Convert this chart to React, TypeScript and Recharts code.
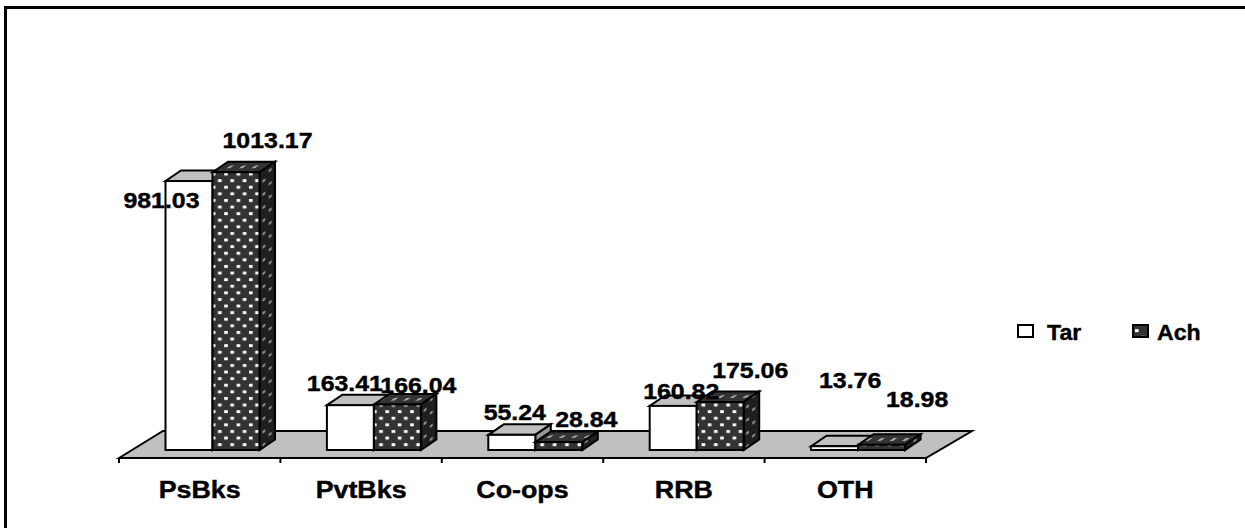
import { BarChart, Bar, XAxis, YAxis, Legend, LabelList } from "recharts";

const categories = ["PsBks", "PvtBks", "Co-ops", "RRB", "OTH"];
const tar = [981.03, 163.41, 55.24, 160.82, 13.76];
const ach = [1013.17, 166.04, 28.84, 175.06, 18.98];

// hand placed data labels, offset from the top centre of each bar
const tarNudge = [[-15, 19], [7, -22], [15.5, -22], [20.5, -14], [28, -65.5]];
const achNudge = [[44, -32], [33.5, -18.5], [40, -23], [42.5, -31], [48, -45]];

const data = categories.map((name, i) => ({ name, tar: tar[i], ach: ach[i] }));

const W = 1245;
const H = 528;
const left = 119;
const right = 926;
const top = 121;
const axisY = 458;
const axisH = 30;
const band = (right - left) / categories.length;
const shiftX = 12.5; // bars stand back from the axis on the floor
const depthX = 15.5;
const depthY = 10.5;
const font = "'Liberation Sans', Arial, sans-serif";

function Box(props: any) {
  const { x, y, width, height, dark, index } = props;
  const fx = x + shiftX;
  const r = fx + width;
  const b = y + height;
  const topId = `achTop${index}`;
  return (
    <g stroke="#000" strokeWidth={2} strokeLinejoin="miter">
      {dark && (
        <pattern
          id={topId}
          patternUnits="userSpaceOnUse"
          x={fx}
          y={y - depthY}
          width={12.4}
          height={depthY}
          patternTransform="skewX(-56)"
        >
          <rect width={12.4} height={depthY} fill="#333" stroke="none" />
          <rect x={3} y={3.8} width={3.6} height={2.8} fill="#a6a6a6" stroke="none" />
        </pattern>
      )}
      <polygon
        points={`${fx},${y} ${fx + depthX},${y - depthY} ${r + depthX},${y - depthY} ${r},${y}`}
        fill={dark ? `url(#${topId})` : "#c0c0c0"}
      />
      <polygon
        points={`${r},${y} ${r + depthX},${y - depthY} ${r + depthX},${b - depthY} ${r},${b}`}
        fill={dark ? "url(#achSide)" : "#969696"}
      />
      <rect x={fx} y={y} width={width} height={height} fill={dark ? "url(#achFront)" : "#fff"} />
    </g>
  );
}

function ValueLabel(props: any, nudge: number[][]) {
  const { x, y, width, value, index } = props;
  const [dx, dy] = nudge[index];
  return (
    <text
      transform={`translate(${x + width / 2 + dx},${y + dy + 7.5}) scale(1.158,1)`}
      textAnchor="middle"
      fontFamily={font}
      fontWeight="bold"
      fontSize={21.5}
      fill="#000"
      stroke="#000"
      strokeWidth={0.4}
    >
      {value}
    </text>
  );
}

function CategoryTick(props: any) {
  const { x, payload, index } = props;
  const edge = x - band / 2;
  return (
    <g>
      <line x1={edge} x2={edge} y1={axisY} y2={axisY + 5} stroke="#000" strokeWidth={2} />
      {index === categories.length - 1 && (
        <line x1={edge + band} x2={edge + band} y1={axisY} y2={axisY + 5} stroke="#000" strokeWidth={2} />
      )}
      <text
        transform={`translate(${x},${axisY + 40}) scale(1.166,1)`}
        textAnchor="middle"
        fontFamily={font}
        fontWeight="bold"
        fontSize={23}
        fill="#000"
        stroke="#000"
        strokeWidth={0.4}
      >
        {payload.value}
      </text>
    </g>
  );
}

function LegendBox(props: any) {
  const items = props.payload || [];
  const spots = [8, 123];
  return (
    <svg width={210} height={30} style={{ display: "block" }}>
      {items.map((item: any, i: number) => (
        <g key={item.value}>
          <rect
            x={spots[i]}
            y={10}
            width={15}
            height={12}
            fill={item.color}
            stroke="#000"
            strokeWidth={2}
          />
          <text
            transform={`translate(${spots[i] + 29 - (i ? 5 : 0)},25) scale(1.05,1)`}
            fontFamily={font}
            fontWeight="bold"
            fontSize={22}
            fill="#000"
            stroke="#000"
            strokeWidth={0.4}
          >
            {item.value}
          </text>
        </g>
      ))}
    </svg>
  );
}

export default function App() {
  return (
    <div style={{ position: "absolute", left: 0, top: 0, width: W, height: H, background: "#fff" }}>
      <div style={{ position: "absolute", left: 4, top: 6, width: 3, height: H - 6, background: "#000" }} />
      <div style={{ position: "absolute", left: 4, top: 6, width: W - 4, height: 2.5, background: "#000" }} />
      <BarChart
        width={W}
        height={H}
        data={data}
        margin={{ top, left, right: W - right, bottom: H - axisY - axisH }}
        barSize={47}
        barGap={0}
      >
        <defs>
          <pattern id="achFront" patternUnits="userSpaceOnUse" width={12.4} height={13.2}>
            <rect width={12.4} height={13.2} fill="#333" />
            <rect x={1} y={1} width={3.6} height={2.9} fill="#fff" />
            <rect x={7.2} y={7.6} width={3.6} height={2.9} fill="#fff" />
          </pattern>
          <pattern id="achSide" patternUnits="userSpaceOnUse" width={12.4} height={13.2} patternTransform="skewY(-32)">
            <rect width={12.4} height={13.2} fill="#1f1f1f" />
            <rect x={2} y={1} width={3} height={2.6} fill="#8c8c8c" />
            <rect x={8.2} y={7.6} width={3} height={2.6} fill="#8c8c8c" />
          </pattern>
        </defs>
        <polygon
          points={`${left},${axisY} ${left + 44},${axisY - 27} ${right + 46},${axisY - 27} ${right},${axisY}`}
          fill="#c0c0c0"
          stroke="#000"
          strokeWidth={2}
        />
        <XAxis
          dataKey="name"
          height={axisH}
          interval={0}
          tickLine={false}
          axisLine={{ stroke: "#000", strokeWidth: 2 }}
          tick={CategoryTick}
        />
        <YAxis hide domain={[-29.2, 1200]} />
        <Legend
          content={LegendBox}
          layout="horizontal"
          align="center"
          verticalAlign="middle"
          itemSorter={null as any}
          wrapperStyle={{ position: "absolute", left: 1010, top: 315, width: 210, height: 30 }}
        />
        <Bar dataKey="tar" name="Tar" fill="#fff" isAnimationActive={false} shape={(p: any) => <Box {...p} />}>
          <LabelList dataKey="tar" content={(p: any) => ValueLabel(p, tarNudge)} />
        </Bar>
        <Bar dataKey="ach" name="Ach" fill="url(#achFront)" isAnimationActive={false} shape={(p: any) => <Box {...p} dark />}>
          <LabelList dataKey="ach" content={(p: any) => ValueLabel(p, achNudge)} />
        </Bar>
      </BarChart>
    </div>
  );
}
